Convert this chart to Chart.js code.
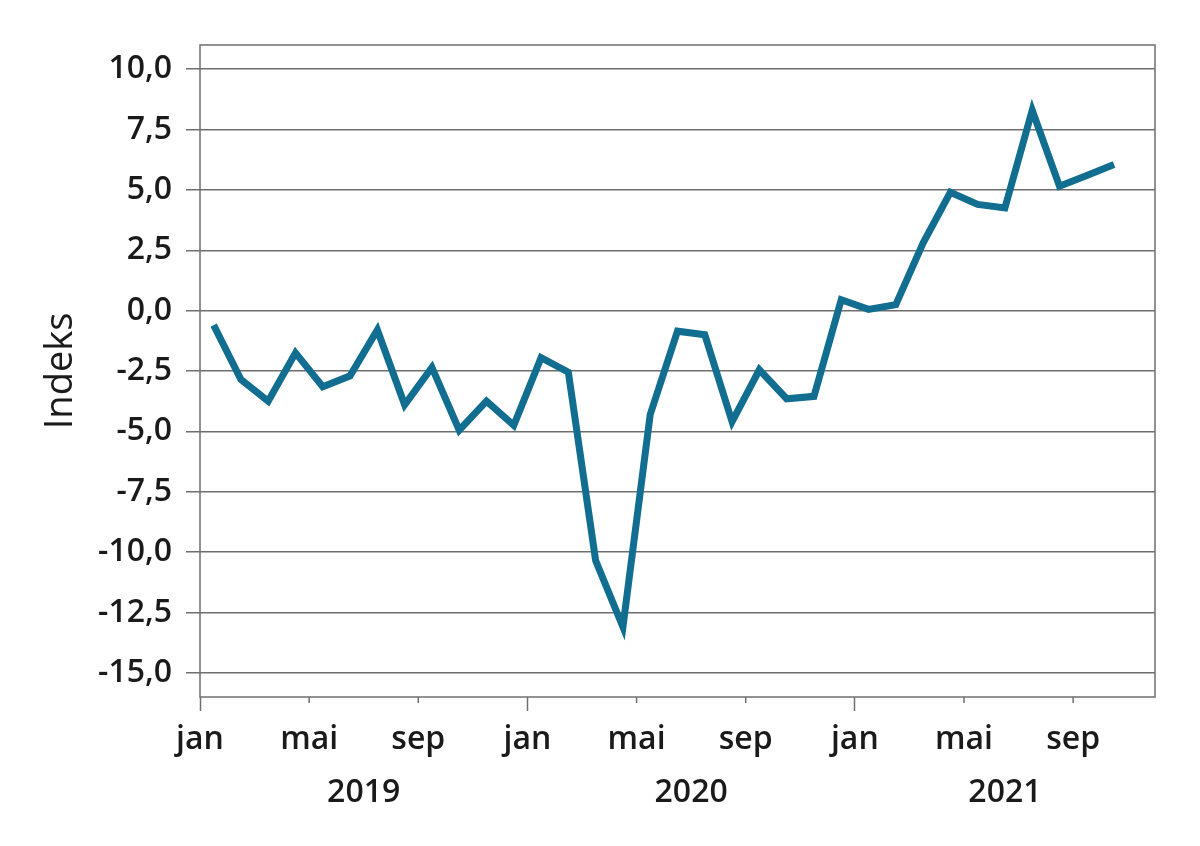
<!DOCTYPE html>
<html>
<head>
<meta charset="utf-8">
<script src="https://cdn.jsdelivr.net/npm/chart.js@4"></script>
<style>
  html, body { margin: 0; padding: 0; background: #fff; }
  #wrap { width: 1200px; height: 846px; }
</style>
</head>
<body>
<div id="wrap"><canvas id="myChart"></canvas></div>
<script>
const monthNames = ["jan", "feb", "mar", "apr", "mai", "jun", "jul", "aug", "sep", "okt", "nov", "des"];
const years = ["2019", "2020", "2021"];
// monthly index, jan 2019 - okt 2021
const indeks = [
    -0.6, -2.85, -3.75, -1.75, -3.15, -2.7, -0.8, -3.9, -2.35, -4.95, -3.75, -4.75,
    -1.95, -2.55, -10.35, -13.1, -4.3, -0.85, -1.0, -4.6, -2.45, -3.65, -3.55, 0.45,
    0.05, 0.25, 2.8, 4.9, 4.4, 4.25, 8.3, 5.15, 5.6, 6.05
];
const yTicks = [-15, -12.5, -10, -7.5, -5, -2.5, 0, 2.5, 5, 7.5, 10];
const monthTicks = [0, 4, 8, 12, 16, 20, 24, 28, 32];

const gray = "#6f6f6f";
const textColor = "#1a1a1a";
const fontFamily = "'Open Sans', 'DejaVu Sans', sans-serif";
const xMax = indeks.length + 1;
const yearCenters = years.map((y, i) => (i * 12 + Math.min(i * 12 + 12, xMax)) / 2);

// frame round the plot + short ticks for mai/sep
const frame = {
    id: "frame",
    beforeDatasetsDraw(chart) {
        const { ctx, chartArea: a } = chart;
        const xs = chart.scales.x;
        ctx.save();
        ctx.strokeStyle = gray;
        ctx.lineWidth = 1.5;
        ctx.strokeRect(a.left, a.top, a.width, a.height);
        ctx.beginPath();
        xs.ticks.forEach(t => {
            if (t.value % 12 !== 0) {
                const px = xs.getPixelForValue(t.value);
                ctx.moveTo(px, a.bottom);
                ctx.lineTo(px, a.bottom + 6);
            }
        });
        ctx.stroke();
        ctx.restore();
    }
};

const ctx = document.getElementById("myChart").getContext("2d");
const myChart = new Chart(ctx, {
    type: "line",
    data: {
        datasets: [{
            label: "Indeks",
            data: indeks.map((v, i) => ({ x: i + 0.5, y: v })),
            borderColor: "#126e90",
            borderWidth: 7,
            pointRadius: 0,
            tension: 0,
            fill: false
        }]
    },
    options: {
        responsive: true,
        maintainAspectRatio: false,
        animation: false,
        layout: { padding: { top: 45, right: 45, left: 0, bottom: 0 } },
        plugins: {
            legend: { display: false },
            tooltip: { enabled: false }
        },
        scales: {
            x: {
                type: "linear",
                position: "bottom",
                weight: 0,
                min: 0,
                max: xMax,
                afterBuildTicks: s => { s.ticks = monthTicks.map(v => ({ value: v })); },
                afterFit: s => { s.height = 72; },
                grid: {
                    drawOnChartArea: false,
                    drawTicks: true,
                    tickLength: 14,
                    tickWidth: 1.5,
                    tickColor: c => (c.tick && c.tick.value % 12 === 0) ? gray : "rgba(0,0,0,0)"
                },
                border: { display: false },
                ticks: {
                    autoSkip: false,
                    maxRotation: 0,
                    padding: 10,
                    color: textColor,
                    font: { family: fontFamily, size: 32, weight: "600" },
                    callback: v => monthNames[v % 12]
                }
            },
            x2: {
                type: "linear",
                position: "bottom",
                weight: 1,
                min: 0,
                max: xMax,
                afterBuildTicks: s => { s.ticks = yearCenters.map(v => ({ value: v })); },
                afterFit: s => { s.height = 77; },
                grid: { display: false, drawTicks: false },
                border: { display: false },
                ticks: {
                    autoSkip: false,
                    maxRotation: 0,
                    padding: 5,
                    color: textColor,
                    font: { family: fontFamily, size: 32, weight: "600" },
                    callback: (v, i) => years[i]
                }
            },
            y: {
                min: -16,
                max: 11,
                afterBuildTicks: s => { s.ticks = yTicks.map(v => ({ value: v })); },
                afterFit: s => { s.width = 200; },
                grid: { color: gray, lineWidth: 1.5, tickLength: 14, tickColor: gray },
                border: { display: false },
                ticks: {
                    padding: 14,
                    color: textColor,
                    font: { family: fontFamily, size: 32, weight: "600" },
                    callback: v => v.toFixed(1).replace(".", ",")
                },
                title: {
                    display: true,
                    text: "Indeks",
                    color: textColor,
                    font: { family: fontFamily, size: 38 },
                    padding: { top: 38, bottom: 0 }
                }
            }
        }
    },
    plugins: [frame]
});
</script>
</body>
</html>
